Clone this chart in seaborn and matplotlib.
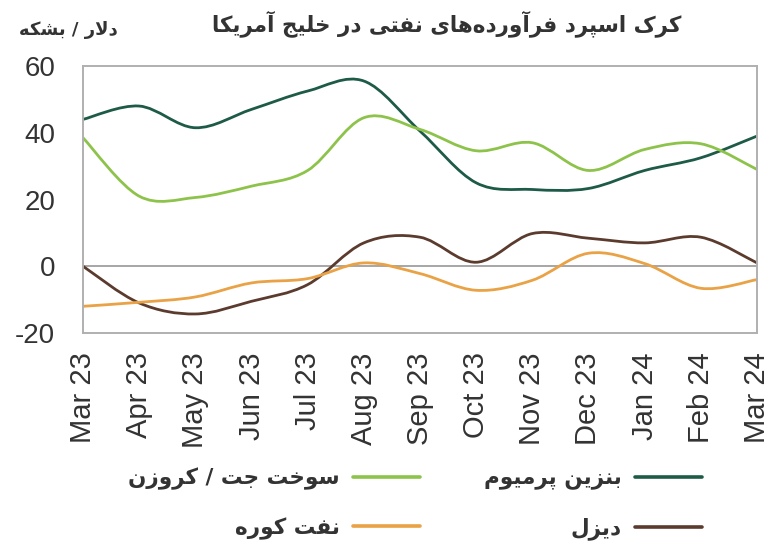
import numpy as np
import pandas as pd
import matplotlib.pyplot as plt
from matplotlib.path import Path
from matplotlib.patches import PathPatch
from matplotlib.lines import Line2D
import seaborn as sns

# --- data (monthly) ---
months = ["Mar 23", "Apr 23", "May 23", "Jun 23", "Jul 23", "Aug 23", "Sep 23",
          "Oct 23", "Nov 23", "Dec 23", "Jan 24", "Feb 24", "Mar 24"]
premium = [44, 48, 41.5, 47, 52.5, 55.5, 40.5, 25, 23, 23.3, 28.7, 32.5, 39]
jet_kero = [38.5, 21, 20.6, 24, 28.7, 44.5, 41, 34.6, 37, 28.7, 35, 36.7, 29]
diesel = [0, -11, -14.3, -10.5, -5.5, 7, 8.7, 1.2, 9.8, 8.4, 7, 8.7, 1]
fuel_oil = [-12, -10.8, -9.2, -5, -3.7, 1, -2.2, -7.2, -4.2, 3.9, 0.8, -6.6, -4]

names = ["بنزین پرمیوم", "سوخت جت / کروزن", "دیزل", "نفت کوره"]
colors = ["#1d5a47", "#8dc34a", "#5b3b2e", "#e9a245"]

title = "کرک اسپرد فرآورده‌های نفتی در خلیج آمریکا"
unit = "دلار / بشکه"

# --- minimal Persian shaping (matplotlib has no bidi / joining) ---
FORMS = {
    "ا": ("\uFE8D", "\uFE8E", None, None),
    "آ": ("\uFE81", "\uFE82", None, None),
    "د": ("\uFEA9", "\uFEAA", None, None),
    "ر": ("\uFEAD", "\uFEAE", None, None),
    "ز": ("\uFEAF", "\uFEB0", None, None),
    "و": ("\uFEED", "\uFEEE", None, None),
    "ب": ("\uFE8F", "\uFE90", "\uFE91", "\uFE92"),
    "پ": ("\uFB56", "\uFB57", "\uFB58", "\uFB59"),
    "ت": ("\uFE95", "\uFE96", "\uFE97", "\uFE98"),
    "ج": ("\uFE9D", "\uFE9E", "\uFE9F", "\uFEA0"),
    "خ": ("\uFEA5", "\uFEA6", "\uFEA7", "\uFEA8"),
    "س": ("\uFEB1", "\uFEB2", "\uFEB3", "\uFEB4"),
    "ش": ("\uFEB5", "\uFEB6", "\uFEB7", "\uFEB8"),
    "ف": ("\uFED1", "\uFED2", "\uFED3", "\uFED4"),
    "ک": ("\uFB8E", "\uFB8F", "\uFB90", "\uFB91"),
    "ل": ("\uFEDD", "\uFEDE", "\uFEDF", "\uFEE0"),
    "م": ("\uFEE1", "\uFEE2", "\uFEE3", "\uFEE4"),
    "ن": ("\uFEE5", "\uFEE6", "\uFEE7", "\uFEE8"),
    "ه": ("\uFEE9", "\uFEEA", "\uFEEB", "\uFEEC"),
    "ی": ("\uFBFC", "\uFBFD", "\uFBFE", "\uFBFF"),
}
LAM_ALEF = {"ا": ("\uFEFB", "\uFEFC"), "آ": ("\uFEF5", "\uFEF6")}


def fa(text):
    chars = list(text)
    out = []
    i = 0
    while i < len(chars):
        c = chars[i]
        if c not in FORMS:
            if c != "\u200c":
                out.append(c)
            i += 1
            continue
        prev = chars[i - 1] if i > 0 else None
        nxt = chars[i + 1] if i + 1 < len(chars) else None
        join_prev = prev in FORMS and FORMS[prev][2] is not None
        if c == "ل" and nxt in LAM_ALEF:
            out.append(LAM_ALEF[nxt][1 if join_prev else 0])
            i += 2
            continue
        join_next = FORMS[c][2] is not None and nxt in FORMS
        iso, fin, ini, med = FORMS[c]
        if join_prev and join_next:
            out.append(med)
        elif join_prev:
            out.append(fin)
        elif join_next:
            out.append(ini)
        else:
            out.append(iso)
        i += 1
    return "".join(out)[::-1]


def smooth_path(xy):
    # Excel-like smoothed line: cubic bezier through every point
    n = len(xy)
    verts = [xy[0]]
    codes = [Path.MOVETO]
    for i in range(n - 1):
        p0 = xy[max(i - 1, 0)]
        p1, p2 = xy[i], xy[i + 1]
        p3 = xy[min(i + 2, n - 1)]
        verts += [p1 + (p2 - p0) / 6, p2 - (p3 - p1) / 6, p2]
        codes += [Path.CURVE4] * 3
    return Path(verts, codes)


df = pd.DataFrame({"x": np.arange(len(months)), names[0]: premium,
                   names[1]: jet_kero, names[2]: diesel, names[3]: fuel_oil})
long = df.melt(id_vars="x", var_name="series", value_name="value")

sns.set_theme(style="white")
plt.rcParams["font.family"] = ["Liberation Sans", "DejaVu Sans"]
plt.rcParams["axes.unicode_minus"] = False

fig = plt.figure(figsize=(7.72, 5.41), dpi=100)
ax = fig.add_axes([83 / 772, 1 - 333 / 541, 674 / 772, 267 / 541])

sns.lineplot(data=long, x="x", y="value", hue="series", hue_order=names,
             palette=colors, legend=False, ax=ax)

# swap seaborn's straight segments for smoothed curves
for line in list(ax.lines):
    patch = PathPatch(smooth_path(line.get_xydata()), facecolor="none",
                      edgecolor=line.get_color(), lw=2.0, capstyle="round")
    ax.add_patch(patch)
    line.remove()

ax.axhline(0, color="#a6a6a6", lw=1.4, zorder=0)
ax.set_xlim(0, len(months) - 1)
ax.set_ylim(-20, 60)
ax.set_yticks([-20, 0, 20, 40, 60])
ax.set_xticks(range(len(months)))
ax.set_xticklabels(months, rotation=90)
ax.set_xlabel("")
ax.set_ylabel("")
ax.tick_params(axis="y", length=0, pad=20, labelsize=20, labelcolor="#333333")
ax.tick_params(axis="x", length=0, pad=14, labelsize=21, labelcolor="#333333")
for sp in ax.spines.values():
    sp.set_color("#b0b0b0")
    sp.set_linewidth(1.4)

fig.text(0.578, 0.957, fa(title), ha="center", va="center", fontsize=15.5,
         fontweight="bold", color="#333333", family="DejaVu Sans")
fig.text(0.089, 0.945, fa(unit), ha="center", va="center", fontsize=13,
         fontweight="bold", color="#333333", family="DejaVu Sans")

# legend: right-to-left, handle to the right of the label
order = [1, 3, 0, 2]
handles = [Line2D([], [], color=colors[k], lw=2.6) for k in order]
labels = [fa(names[k]) for k in order]
leg = fig.legend(handles, labels, loc="center", ncol=2, frameon=False,
                 bbox_to_anchor=(415 / 772, 1 - 504 / 541), markerfirst=False,
                 handlelength=3.1, handletextpad=0.6, columnspacing=3.0,
                 labelspacing=1.25,
                 prop={"family": "DejaVu Sans", "weight": "bold", "size": 15.5})
for t in leg.get_texts():
    t.set_color("#333333")

fig.savefig("out.png", dpi=100)
